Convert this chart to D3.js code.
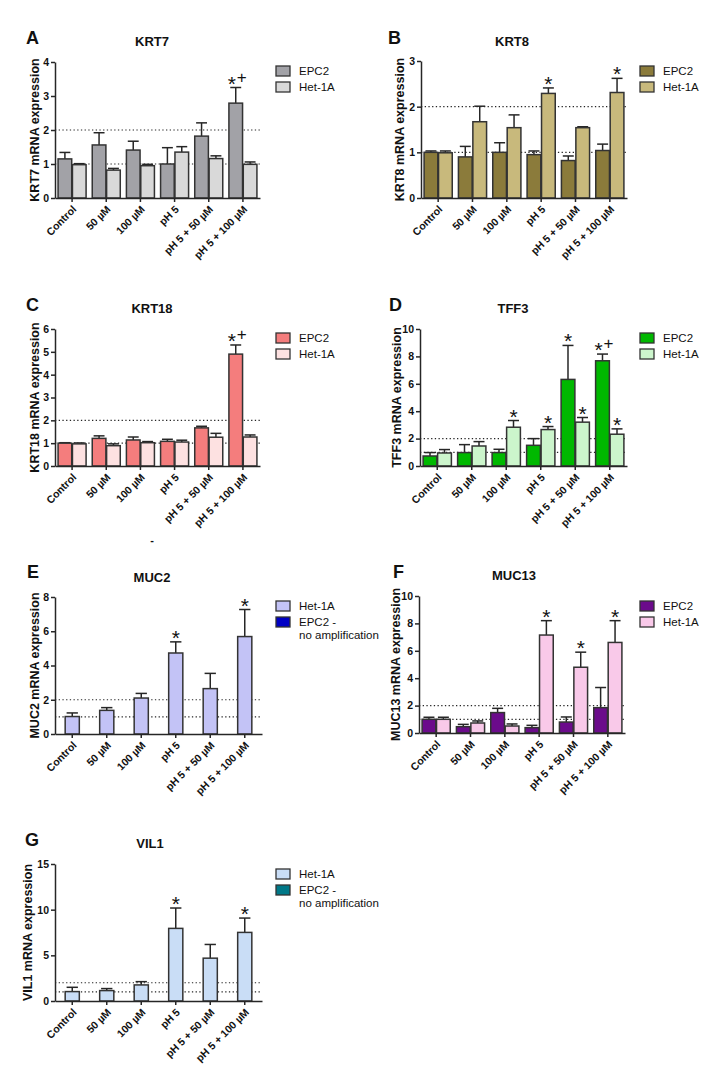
<!DOCTYPE html>
<html>
<head>
<meta charset="utf-8">
<script src="https://cdn.jsdelivr.net/npm/d3@7/dist/d3.min.js"></script>
<style>
  html, body { margin: 0; padding: 0; background: #fff; }
  svg { display: block; font-family: "Liberation Sans", Arial, Helvetica, sans-serif; }
</style>
</head>
<body>
<svg id="chart" width="720" height="1083"></svg>
<script>
// ---------------- DATA ----------------
const categories = ["Control", "50 µM", "100 µM", "pH 5", "pH 5 + 50 µM", "pH 5 + 100 µM"];

// A: KRT7
const krt7EPC2 = [1.15, 1.56, 1.41, 1.00, 1.82, 2.79];
const krt7EPC2Sem = [0.19, 0.36, 0.26, 0.48, 0.39, 0.46];
const krt7EPC2Sig = ["", "", "", "", "", "*+"];
const krt7Het = [0.98, 0.82, 0.95, 1.35, 1.16, 0.99];
const krt7HetSem = [0.03, 0.05, 0.04, 0.16, 0.08, 0.07];
const krt7HetSig = ["", "", "", "", "", ""];
const krt7Ticks = [0, 1, 2, 3, 4];

// B: KRT8
const krt8EPC2 = [1.00, 0.90, 1.00, 0.95, 0.82, 1.04];
const krt8EPC2Sem = [0.03, 0.23, 0.21, 0.08, 0.10, 0.14];
const krt8EPC2Sig = ["", "", "", "", "", ""];
const krt8Het = [0.99, 1.67, 1.54, 2.29, 1.54, 2.31];
const krt8HetSem = [0.04, 0.34, 0.28, 0.12, 0.02, 0.31];
const krt8HetSig = ["", "", "", "*", "", "*"];
const krt8Ticks = [0, 1, 2, 3];

// C: KRT18
const krt18EPC2 = [1.00, 1.21, 1.14, 1.08, 1.67, 4.90];
const krt18EPC2Sem = [0.02, 0.11, 0.13, 0.09, 0.07, 0.40];
const krt18EPC2Sig = ["", "", "", "", "", "*+"];
const krt18Het = [0.97, 0.89, 1.02, 1.05, 1.26, 1.27];
const krt18HetSem = [0.04, 0.08, 0.05, 0.08, 0.17, 0.09];
const krt18HetSig = ["", "", "", "", "", ""];
const krt18Ticks = [0, 1, 2, 3, 4, 5, 6];

// D: TFF3
const tff3EPC2 = [0.73, 0.98, 0.98, 1.51, 6.32, 7.68];
const tff3EPC2Sem = [0.25, 0.58, 0.24, 0.49, 2.48, 0.49];
const tff3EPC2Sig = ["", "", "", "", "*", "*+"];
const tff3Het = [0.95, 1.46, 2.83, 2.66, 3.20, 2.32];
const tff3HetSem = [0.25, 0.32, 0.49, 0.22, 0.34, 0.39];
const tff3HetSig = ["", "", "*", "*", "*", "*"];
const tff3Ticks = [0, 2, 4, 6, 8, 10];

// E: MUC2 (EPC2 - no amplification)
const muc2Het = [1.02, 1.38, 2.10, 4.73, 2.65, 5.69];
const muc2HetSem = [0.21, 0.16, 0.27, 0.65, 0.89, 1.58];
const muc2HetSig = ["", "", "", "*", "", "*"];
const muc2Ticks = [0, 2, 4, 6, 8];

// F: MUC13
const muc13EPC2 = [1.00, 0.46, 1.49, 0.39, 0.80, 1.85];
const muc13EPC2Sem = [0.15, 0.17, 0.31, 0.17, 0.37, 1.47];
const muc13EPC2Sig = ["", "", "", "", "", ""];
const muc13Het = [1.00, 0.73, 0.51, 7.15, 4.80, 6.61];
const muc13HetSem = [0.15, 0.15, 0.15, 1.05, 1.10, 1.59];
const muc13HetSig = ["", "", "", "*", "*", "*"];
const muc13Ticks = [0, 2, 4, 6, 8, 10];

// G: VIL1 (EPC2 - no amplification)
const vil1Het = [1.03, 1.14, 1.76, 7.95, 4.69, 7.51];
const vil1HetSem = [0.47, 0.22, 0.36, 2.23, 1.50, 1.57];
const vil1HetSig = ["", "", "", "*", "", "*"];
const vil1Ticks = [0, 5, 10, 15];

const referenceLines = [1, 2];

// ---------------- DRAWING ----------------
const svg = d3.select("#chart");
const INK = "#262626";

function drawPanel(p) {
  const g = svg.append("g");
  const yMax = p.ticks[p.ticks.length - 1];
  const y = d3.scaleLinear().domain([0, yMax]).range([p.y0, p.yTop]);
  const x = d3.scaleBand().domain(categories).range([p.ax, p.xEnd])
    .paddingInner(0.18).paddingOuter(0.09);
  const band = x.bandwidth();
  const nS = p.series.length;
  const inner = d3.scaleBand().domain(d3.range(nS)).range([0, band]).paddingInner(0.05);
  const bw = nS === 1 ? band / 2 : inner.bandwidth();
  const barX = (ci, si) => nS === 1 ? x(categories[ci]) + band / 4 : x(categories[ci]) + inner(si);

  // letter + title
  g.append("text").attr("x", p.letterX).attr("y", p.letterY)
    .attr("font-size", 18).attr("font-weight", "bold").attr("fill", "#111").text(p.letter);
  g.append("text").attr("x", p.titleX).attr("y", p.titleY).attr("text-anchor", "middle")
    .attr("font-size", 13).attr("font-weight", "bold").attr("fill", "#111").text(p.title);

  // reference dotted lines
  g.selectAll("line.ref").data(referenceLines).enter().append("line")
    .attr("x1", p.ax).attr("x2", p.xEnd)
    .attr("y1", d => y(d)).attr("y2", d => y(d))
    .attr("stroke", INK).attr("stroke-width", 1.2).attr("stroke-dasharray", "1.3,2.4");

  // bars, error bars, significance marks
  p.series.forEach((s, si) => {
    const data = s.values.map((v, i) => ({ v, e: s.sem[i], sig: s.sig[i], i }));
    data.forEach(d => {
      const cx = barX(d.i, si) + bw / 2;
      const top = y(d.v + d.e);
      g.append("line").attr("x1", cx).attr("x2", cx).attr("y1", y(d.v)).attr("y2", top)
        .attr("stroke", INK).attr("stroke-width", 1.5);
      g.append("line").attr("x1", cx - bw * 0.4).attr("x2", cx + bw * 0.4).attr("y1", top).attr("y2", top)
        .attr("stroke", INK).attr("stroke-width", 1.5);
    });
    g.selectAll(null).data(data).enter().append("rect")
      .attr("x", d => barX(d.i, si)).attr("width", bw)
      .attr("y", d => y(d.v)).attr("height", d => p.y0 - y(d.v))
      .attr("fill", s.color).attr("stroke", "#333").attr("stroke-width", 1.5);
    data.forEach(d => {
      if (!d.sig) return;
      const cx = barX(d.i, si) + bw / 2;
      const top = y(d.v + d.e);
      if (d.sig === "*+") {
        g.append("text").attr("x", cx - 4).attr("y", top + 3).attr("text-anchor", "middle")
          .attr("font-size", 21).attr("fill", "#111").text("*");
        g.append("text").attr("x", cx + 6).attr("y", top - 5).attr("text-anchor", "middle")
          .attr("font-size", 17).attr("fill", "#111").text("+");
      } else {
        g.append("text").attr("x", cx).attr("y", top + 3).attr("text-anchor", "middle")
          .attr("font-size", 21).attr("fill", "#111").text("*");
      }
    });
  });

  // axes
  const yAxis = g.append("g").attr("transform", `translate(${p.ax},0)`)
    .call(d3.axisLeft(y).tickValues(p.ticks).tickFormat(d3.format("d")).tickSize(4).tickSizeOuter(0).tickPadding(2));
  yAxis.selectAll("path, line").attr("stroke", INK).attr("stroke-width", 1.5);
  yAxis.selectAll("text").attr("font-size", 10.5).attr("font-weight", "bold").attr("fill", "#111")
    .attr("font-family", "Liberation Sans, Arial, sans-serif");

  const xAxis = g.append("g").attr("transform", `translate(0,${p.y0})`)
    .call(d3.axisBottom(x).tickSize(4).tickSizeOuter(0));
  xAxis.selectAll("path, line").attr("stroke", INK).attr("stroke-width", 1.5);
  xAxis.selectAll("text").attr("font-size", 10.5).attr("font-weight", "bold").attr("fill", "#111")
    .attr("font-family", "Liberation Sans, Arial, sans-serif")
    .attr("text-anchor", "end").attr("dy", null).attr("y", 0)
    .attr("transform", "translate(5,12) rotate(-45)");

  // y label
  g.append("text").attr("transform", `translate(${p.ylabelX},${(p.y0 + p.yTop) / 2}) rotate(-90)`)
    .attr("text-anchor", "middle").attr("font-size", 12.5).attr("font-weight", "bold").attr("fill", "#111")
    .text(p.ylabel);

  // legend
  p.legend.forEach((l, li) => {
    const ly = p.legendY + li * 16;
    g.append("rect").attr("x", p.legendX).attr("y", ly).attr("width", 14).attr("height", 10)
      .attr("fill", l.color).attr("stroke", "#333").attr("stroke-width", 1.3);
    l.lines.forEach((t, ti) => {
      g.append("text").attr("x", p.legendX + 23).attr("y", ly + 9 + ti * 13)
        .attr("font-size", 11.5).attr("fill", "#111").text(t);
    });
  });
}

const colA = ["#a2a2a7", "#d9d9d9"];
const colB = ["#8b7b3b", "#c8b97c"];
const colC = ["#f47d7d", "#fde1e1"];
const colD = ["#00b800", "#ccf5cc"];
const colE = ["#c3c3f6", "#0000c4"];
const colF = ["#6b0b8b", "#f9c9e9"];
const colG = ["#c9ddf6", "#007888"];

drawPanel({ letter: "A", title: "KRT7", ylabel: "KRT7 mRNA expression",
  ax: 55, y0: 198, yTop: 62, xEnd: 260, ticks: krt7Ticks,
  titleX: 152, titleY: 46, letterX: 26, letterY: 44, ylabelX: 39,
  legendX: 276, legendY: 66,
  series: [
    { values: krt7EPC2, sem: krt7EPC2Sem, sig: krt7EPC2Sig, color: colA[0] },
    { values: krt7Het, sem: krt7HetSem, sig: krt7HetSig, color: colA[1] }],
  legend: [{ color: colA[0], lines: ["EPC2"] }, { color: colA[1], lines: ["Het-1A"] }] });

drawPanel({ letter: "B", title: "KRT8", ylabel: "KRT8 mRNA expression",
  ax: 421, y0: 198, yTop: 61, xEnd: 627, ticks: krt8Ticks,
  titleX: 512, titleY: 46, letterX: 388, letterY: 44, ylabelX: 404,
  legendX: 640, legendY: 66,
  series: [
    { values: krt8EPC2, sem: krt8EPC2Sem, sig: krt8EPC2Sig, color: colB[0] },
    { values: krt8Het, sem: krt8HetSem, sig: krt8HetSig, color: colB[1] }],
  legend: [{ color: colB[0], lines: ["EPC2"] }, { color: colB[1], lines: ["Het-1A"] }] });

drawPanel({ letter: "C", title: "KRT18", ylabel: "KRT18 mRNA expression",
  ax: 55, y0: 466, yTop: 329, xEnd: 260, ticks: krt18Ticks,
  titleX: 152, titleY: 313, letterX: 26, letterY: 311, ylabelX: 39,
  legendX: 276, legendY: 333,
  series: [
    { values: krt18EPC2, sem: krt18EPC2Sem, sig: krt18EPC2Sig, color: colC[0] },
    { values: krt18Het, sem: krt18HetSem, sig: krt18HetSig, color: colC[1] }],
  legend: [{ color: colC[0], lines: ["EPC2"] }, { color: colC[1], lines: ["Het-1A"] }] });

drawPanel({ letter: "D", title: "TFF3", ylabel: "TFF3 mRNA expression",
  ax: 420, y0: 466, yTop: 329, xEnd: 627, ticks: tff3Ticks,
  titleX: 513, titleY: 313, letterX: 389, letterY: 311, ylabelX: 401,
  legendX: 640, legendY: 333,
  series: [
    { values: tff3EPC2, sem: tff3EPC2Sem, sig: tff3EPC2Sig, color: colD[0] },
    { values: tff3Het, sem: tff3HetSem, sig: tff3HetSig, color: colD[1] }],
  legend: [{ color: colD[0], lines: ["EPC2"] }, { color: colD[1], lines: ["Het-1A"] }] });

drawPanel({ letter: "E", title: "MUC2", ylabel: "MUC2 mRNA expression",
  ax: 55, y0: 734, yTop: 597, xEnd: 262, ticks: muc2Ticks,
  titleX: 152, titleY: 582, letterX: 27, letterY: 578, ylabelX: 39,
  legendX: 276, legendY: 601,
  series: [{ values: muc2Het, sem: muc2HetSem, sig: muc2HetSig, color: colE[0] }],
  legend: [{ color: colE[0], lines: ["Het-1A"] }, { color: colE[1], lines: ["EPC2 -", "no amplification"] }] });

drawPanel({ letter: "F", title: "MUC13", ylabel: "MUC13 mRNA expression",
  ax: 419, y0: 733, yTop: 596, xEnd: 625, ticks: muc13Ticks,
  titleX: 514, titleY: 580, letterX: 393, letterY: 578, ylabelX: 400,
  legendX: 640, legendY: 601,
  series: [
    { values: muc13EPC2, sem: muc13EPC2Sem, sig: muc13EPC2Sig, color: colF[0] },
    { values: muc13Het, sem: muc13HetSem, sig: muc13HetSig, color: colF[1] }],
  legend: [{ color: colF[0], lines: ["EPC2"] }, { color: colF[1], lines: ["Het-1A"] }] });

drawPanel({ letter: "G", title: "VIL1", ylabel: "VIL1 mRNA expression",
  ax: 55, y0: 1001, yTop: 864, xEnd: 262, ticks: vil1Ticks,
  titleX: 150, titleY: 848, letterX: 25, letterY: 846, ylabelX: 32,
  legendX: 276, legendY: 869,
  series: [{ values: vil1Het, sem: vil1HetSem, sig: vil1HetSig, color: colG[0] }],
  legend: [{ color: colG[0], lines: ["Het-1A"] }, { color: colG[1], lines: ["EPC2 -", "no amplification"] }] });

// stray mark present in the original figure
svg.append("text").attr("x", 152).attr("y", 544).attr("text-anchor", "middle")
  .attr("font-size", 11).attr("font-weight", "bold").attr("fill", "#111").text("-");
</script>
</body>
</html>
